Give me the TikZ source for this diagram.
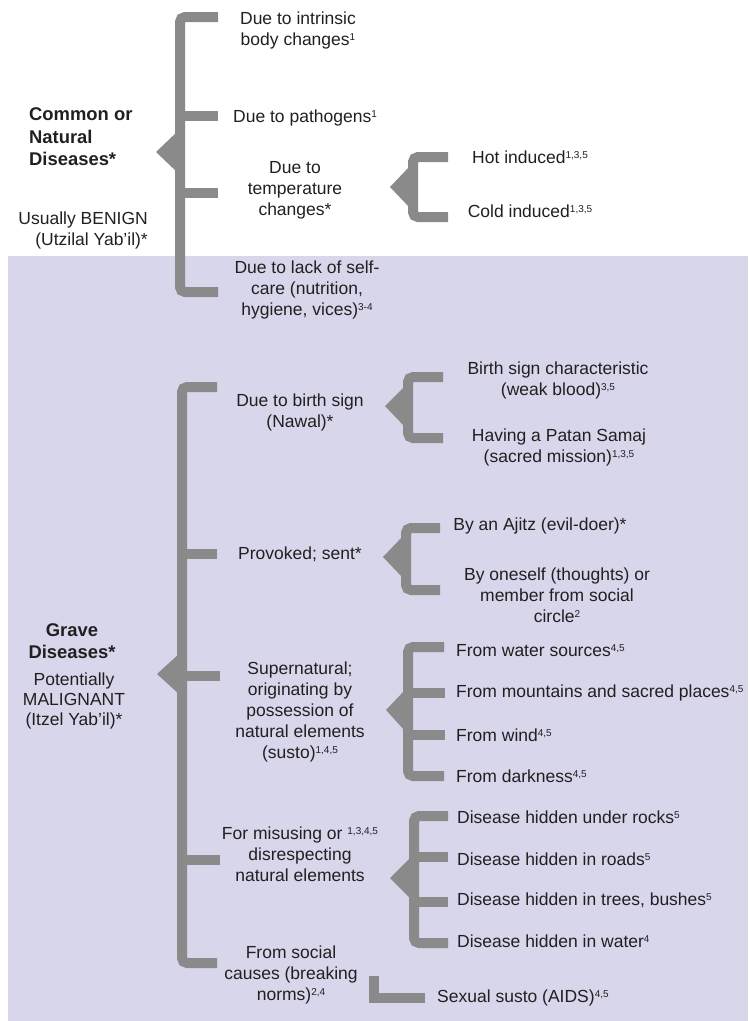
\documentclass[tikz,border=0pt]{standalone}
\usepackage{fontspec}
\setmainfont{Liberation Sans}
\definecolor{brk}{HTML}{8A8A8A}
\definecolor{lav}{HTML}{D7D6EB}
\definecolor{ink}{HTML}{231F20}
\tikzset{
    brace/.style={draw=brk, line width=10pt, rounded corners=5pt},
    tick/.style={draw=brk, line width=10pt},
    tip/.style={fill=brk},
    lbl/.style={text=ink, font=\fontsize{17.5}{21}\selectfont, inner sep=0pt, align=center},
    head/.style={lbl, font=\fontsize{18.4}{22.5}\selectfont\bfseries},
    item/.style={lbl, anchor=west, align=left},
}
\newcommand{\refs}[1]{\raisebox{5pt}{\fontsize{10}{10}\selectfont#1}}
\begin{document}
\begin{tikzpicture}[x=1pt, y=-1pt]
        \useasboundingbox (0, 0) rectangle (748, 1021);
        \fill[lav] (8, 256) rectangle (748, 1021);

        \draw[brace] (218, 17) -- (180, 17) -- (180, 292) -- (218, 292);
        \draw[tick] (180, 116) to (218, 116);
        \draw[tick] (180, 193) to (218, 193);
        \fill[tip] (178, 131) -- (156, 152) -- (178, 173) -- cycle;

        \draw[brace] (217, 387) -- (182, 387) -- (182, 963) -- (217, 963);
        \draw[tick] (182, 554) to (217, 554);
        \draw[tick] (182, 676) to (220, 676);
        \draw[tick] (182, 860) to (220, 860);
        \fill[tip] (180, 653) -- (157, 674) -- (180, 695) -- cycle;

        \draw[brace] (448, 157) -- (413, 157) -- (413, 217) -- (448, 217);
        \fill[tip] (410, 166) -- (390, 187) -- (410, 208) -- cycle;

        \draw[brace] (443, 377) -- (408, 377) -- (408, 438) -- (443, 438);
        \fill[tip] (405, 386) -- (385, 406) -- (405, 427) -- cycle;

        \draw[brace] (440, 528) -- (406, 528) -- (406, 590) -- (440, 590);
        \fill[tip] (403, 536) -- (383, 557) -- (403, 578) -- cycle;

        \draw[brace] (444, 647) -- (408, 647) -- (408, 776) -- (444, 776);
        \draw[tick] (408, 693) to (445, 693);
        \draw[tick] (408, 735) to (445, 735);
        \fill[tip] (405, 690) -- (386, 710) -- (405, 731) -- cycle;

        \draw[brace] (448, 816) -- (414, 816) -- (414, 943) -- (448, 943);
        \draw[tick] (414, 857) to (448, 857);
        \draw[tick] (414, 902) to (448, 902);
        \fill[tip] (411, 857) -- (390, 878) -- (411, 899) -- cycle;

        \draw[tick] (374, 976) -- (374, 998) -- (425, 998);

        \node[head, anchor=west, align=left] (common) at (29, 137) {Common or\\Natural\\Diseases*};
        \node[lbl, anchor=east, align=right] (benign) at (148, 230) {Usually BENIGN\\(Utzilal Yab’il)*};
        \node[head] (grave) at (72, 641) {Grave\\Diseases*};
        \node[lbl, font=\fontsize{17.5}{20}\selectfont] (malignant) at (74, 701) {Potentially\\MALIGNANT\\(Itzel Yab’il)*};

        \node[lbl] (intrinsic) at (298, 30) {Due to intrinsic\\body changes\refs{1}};
        \node[lbl] (pathogens) at (305, 118) {Due to pathogens\refs{1}};
        \node[lbl] (temperature) at (295, 190) {Due to\\temperature\\changes*};
        \node[lbl] (selfcare) at (307, 290) {Due to lack of self-\\care (nutrition,\\hygiene, vices)\refs{3-4}};

        \node[lbl] (hot) at (530, 157) {Hot induced\refs{1,3,5}};
        \node[lbl] (cold) at (530, 211) {Cold induced\refs{1,3,5}};

        \node[lbl] (birth) at (300, 412) {Due to birth sign\\(Nawal)*};
        \node[lbl] (provoked) at (300, 554) {Provoked; sent*};
        \node[lbl] (supernatural) at (300, 712) {Supernatural;\\originating by\\possession of\\natural elements\\(susto)\refs{1,4,5}};
        \node[lbl] (misusing) at (300, 854) {For misusing or \refs{1,3,4,5}\\disrespecting\\natural elements};
        \node[lbl] (social) at (291, 975) {From social\\causes (breaking\\norms)\refs{2,4}};

        \node[lbl] (weakblood) at (558, 380) {Birth sign characteristic\\(weak blood)\refs{3,5}};
        \node[lbl] (mission) at (559, 447) {Having a Patan Samaj\\(sacred mission)\refs{1,3,5}};

        \node[lbl] (ajitz) at (540, 526) {By an Ajitz (evil-doer)*};
        \node[lbl] (oneself) at (557, 595) {By oneself (thoughts) or\\member from social\\circle\refs{2}};

        \node[item] (water) at (456, 651) {From water sources\refs{4,5}};
        \node[item] (mountains) at (456, 693) {From mountains and sacred places\refs{4,5}};
        \node[item] (wind) at (456, 735) {From wind\refs{4,5}};
        \node[item] (darkness) at (456, 776) {From darkness\refs{4,5}};

        \node[item] (rocks) at (457, 817) {Disease hidden under rocks\refs{5}};
        \node[item] (roads) at (457, 859) {Disease hidden in roads\refs{5}};
        \node[item] (trees) at (457, 900) {Disease hidden in trees, bushes\refs{5}};
        \node[item] (inwater) at (457, 941) {Disease hidden in water\refs{4}};

        \node[item] (aids) at (437, 998) {Sexual susto (AIDS)\refs{4,5}};
    \end{tikzpicture}
\end{document}
